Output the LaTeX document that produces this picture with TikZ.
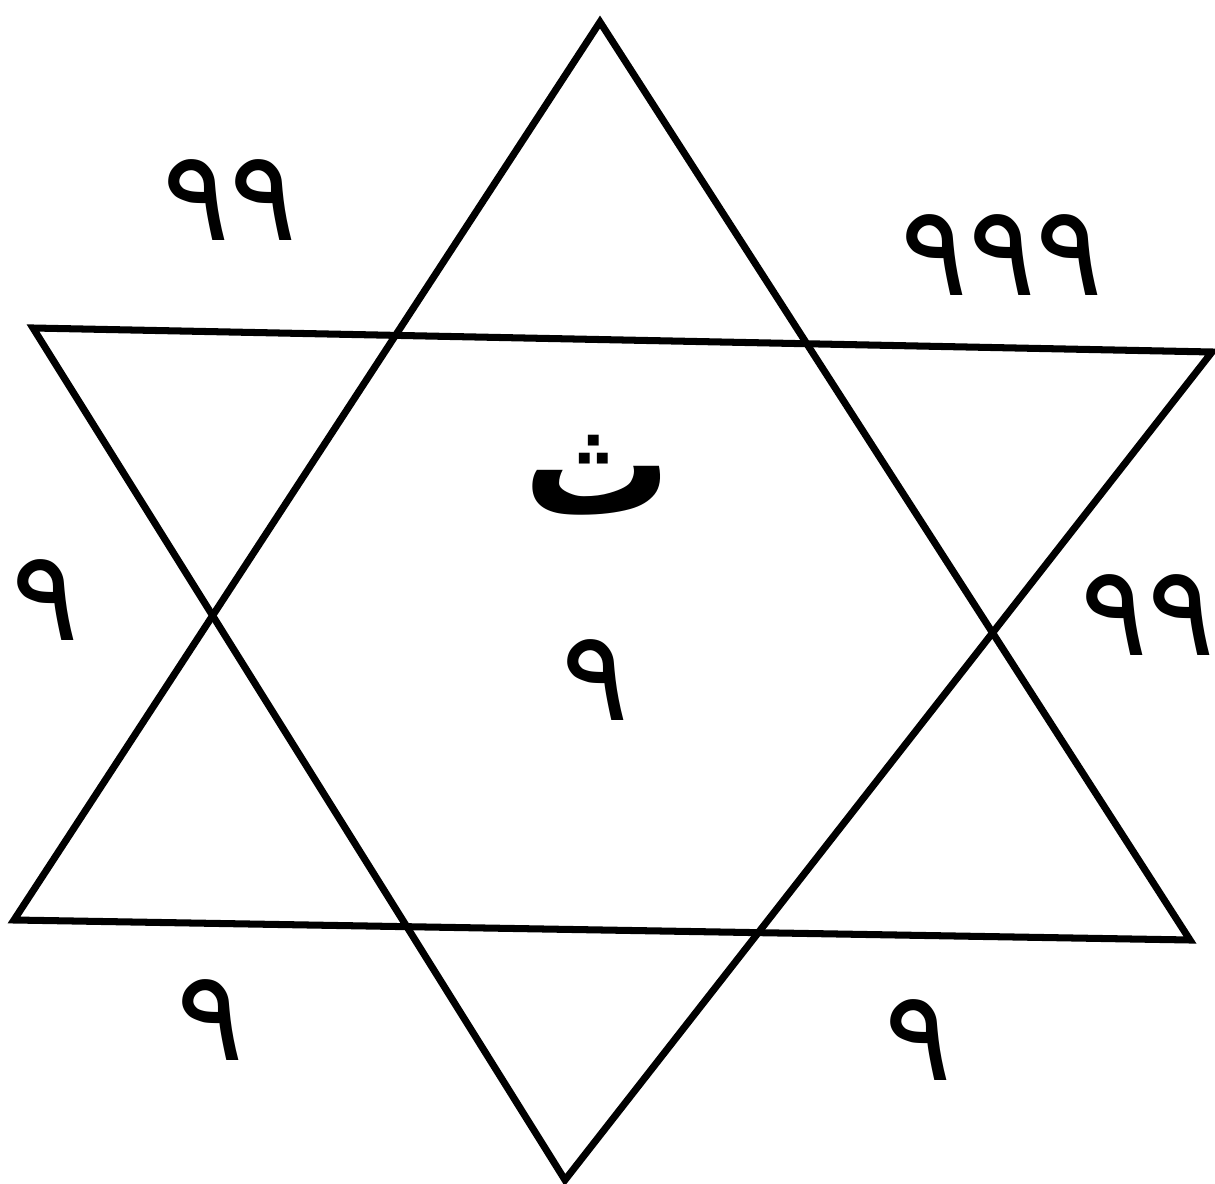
\documentclass[tikz,border=0pt]{standalone}
\usepackage{fontspec}
\TeXXeTstate=1
\newfontfamily\arabicfont[Script=Arabic]{DejaVu Sans}
\begin{document}
\begin{tikzpicture}[
    num/.style={font=\arabicfont\fontsize{36}{36}\selectfont, inner sep=0pt},
    letter/.style={font=\arabicfont\bfseries\fontsize{42}{42}\selectfont, inner sep=0pt}]
                \useasboundingbox (0, 0) rectangle (12.15, -11.84);

                % Triangle vers le haut
                \coordinate (A0) at (6.00, -0.22);
                \coordinate (A1) at (0.14, -9.20);
                \coordinate (A2) at (11.90, -9.40);

                % Triangle vers le bas
                \coordinate (B0) at (0.33, -3.28);
                \coordinate (B1) at (12.12, -3.52);
                \coordinate (B2) at (5.65, -11.80);

                % Hexagramme
                \draw[line width=2pt, line join=miter] (A0) -- (A1) -- (A2) -- cycle;
                \draw[line width=2pt, line join=miter] (B0) -- (B1) -- (B2) -- cycle;

                % Lettre et chiffres
                \node[letter] (theh) at (5.98, -4.75) {\beginR ث\endR};
                \node[num] (c) at (5.95, -6.80) {\beginR ٩\endR};
                \node[num] (nw) at (2.30, -2.00) {\beginR ٩٩\endR};
                \node[num] (ne) at (10.02, -2.55) {\beginR ٩٩٩\endR};
                \node[num] (w) at (0.45, -6.00) {\beginR ٩\endR};
                \node[num] (e) at (11.48, -6.15) {\beginR ٩٩\endR};
                \node[num] (sw) at (2.10, -10.20) {\beginR ٩\endR};
                \node[num] (se) at (9.18, -10.40) {\beginR ٩\endR};
            \end{tikzpicture}
\end{document}
